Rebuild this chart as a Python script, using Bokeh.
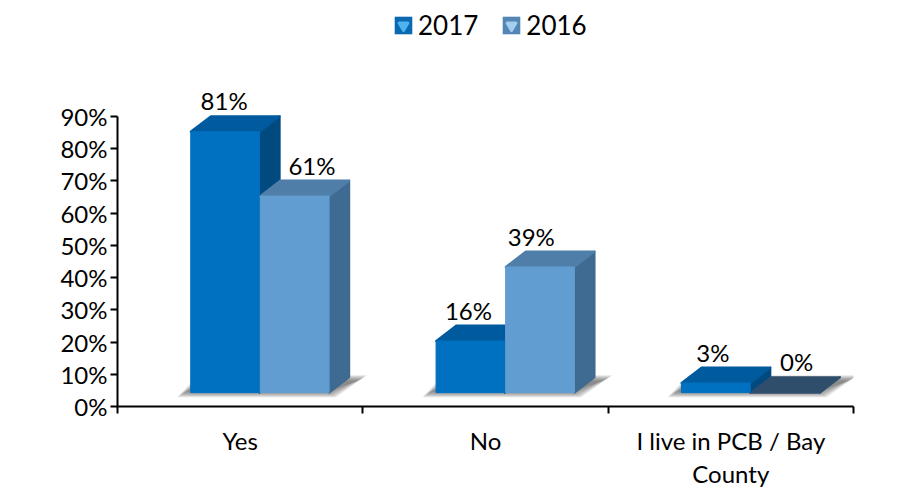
from math import nan
from bokeh.plotting import figure
from bokeh.models import FixedTicker, Legend, LegendItem, ColumnDataSource, Range1d
from bokeh.core.properties import value
from bokeh.embed import file_html
from bokeh.resources import INLINE

categories = ["Yes", "No", "I live in PCB / Bay\nCounty"]
series_names = ["2017", "2016"]
values_2017 = [81, 16, 3]
values_2016 = [61, 39, 0]
y_ticks = [0, 10, 20, 30, 40, 50, 60, 70, 80, 90]

FONT = "Lato"
FS = "24px"
BASE = 4.3
DX, DY = 0.082, 4.8
BW = 0.2805
START = 0.2985
front = ["#0070C0", "#629DD1"]
side = ["#004A80", "#3F6A91"]
top = ["#005A9E", "#4F7FA9"]
zero_top = "#2F4E6C"
label_dx = [[-1, -2, -3], [18, -8, 12]]

p = figure(width=903, height=490, output_backend="svg", toolbar_location=None,
           x_range=Range1d(0, 3), y_range=Range1d(0, 126),
           min_border_left=117, min_border_right=50, min_border_top=0, min_border_bottom=83)
p.outline_line_color = None
p.grid.visible = False
p.background_fill_color = None

# floor shadows
LAYERS = 7
for layer in range(LAYERS):
    xs, ys = [], []
    g = layer * 0.006
    h = layer * 0.3
    for c in range(3):
        s0 = c + START
        s1 = s0 + 2 * BW
        b = BASE - 1.4 + h
        t = BASE + DY + 0.6 - h
        xs.append([s0 - 0.055 + g, s1 + 0.03 - g, s1 + DX + 0.075 - g, s0 + 0.03 + g])
        ys.append([b, b, t, t])
    p.patches(xs, ys, fill_color="#606060", fill_alpha=0.16, line_color=None)


def faces(x0, v):
    x1 = x0 + BW
    t = BASE + v
    return ([x0, x1, x1, x0], [BASE, BASE, t, t],
            [x1, x1 + DX, x1 + DX, x1], [BASE, BASE + DY, t + DY, t],
            [x0, x1, x1 + DX, x0 + DX], [t, t, t + DY, t + DY])


all_values = [values_2017, values_2016]
legend_items = []
for s in range(2):
    for c in range(3):
        v = all_values[s][c]
        x0 = c + START + s * BW + s * 0.003
        fx, fy, sx, sy, tx, ty = faces(x0, v)
        tc = top[s] if v > 0 else zero_top
        p.patch(sx, sy, fill_color=side[s], line_color=side[s], line_width=2, line_join="round")
        p.patch(tx, ty, fill_color=tc, line_color=tc, line_width=2, line_join="round")
        if v > 0:
            p.patch(fx, fy, fill_color=front[s], line_color=front[s], line_width=1, line_join="round")

for s in range(2):
    src = ColumnDataSource(dict(
        x=[c + START + s * BW + BW / 2 for c in range(3)],
        y=[BASE + all_values[s][c] + DY for c in range(3)],
        t=[f"{all_values[s][c]}%" for c in range(3)],
        dx=label_dx[s]))
    p.text("x", "y", text="t", source=src, x_offset="dx", y_offset=-1,
           text_font=value(FONT), text_font_size=FS, text_color="#000000",
           text_align="center", text_baseline="bottom")

# x axis: labels centred in category, ticks at the boundaries
xa = p.xaxis[0]
xa.ticker = FixedTicker(ticks=[0.5, 1.5, 2.5], minor_ticks=[0, 1, 2, 3])
xa.major_label_overrides = {0.5: categories[0], 1.5: categories[1], 2.5: categories[2]}
xa.major_tick_line_color = None
xa.minor_tick_line_color = "#000000"
xa.minor_tick_line_width = 2
xa.minor_tick_in = 0
xa.minor_tick_out = 7
xa.axis_line_color = "#000000"
xa.axis_line_width = 2
xa.major_label_standoff = 12
xa.major_label_text_font = FONT
xa.major_label_text_font_size = FS
xa.major_label_text_color = "#000000"
xa.major_label_text_line_height = 1.15

ya = p.yaxis[0]
ya.ticker = FixedTicker(ticks=y_ticks)
ya.bounds = (0, 90)
ya.major_label_overrides = {t: f"{t}%" for t in y_ticks}
ya.minor_tick_line_color = None
ya.major_tick_line_color = "#000000"
ya.major_tick_line_width = 2
ya.major_tick_in = 0
ya.major_tick_out = 7
ya.axis_line_color = "#000000"
ya.axis_line_width = 2
ya.major_label_standoff = 3
ya.major_label_text_font = FONT
ya.major_label_text_font_size = FS
ya.major_label_text_color = "#000000"

# legend
for s in range(2):
    q = p.quad(left=[nan], right=[nan], bottom=[nan], top=[nan], fill_color="#0A69B0" if s == 0 else "#5486B5",
               line_color=None)
    m = p.scatter(x=[nan], y=[nan], marker="inverted_triangle", size=10,
                  fill_color="#4FB3F0" if s == 0 else "#A5CDF0",
                  line_color="#4FB3F0" if s == 0 else "#A5CDF0", line_width=3, line_join="round")
    legend_items.append(LegendItem(label=series_names[s], renderers=[q, m]))
legend = Legend(items=legend_items, orientation="horizontal", location=(275, 365),
                border_line_color=None, background_fill_alpha=0,
                glyph_width=22, glyph_height=22, spacing=22, label_standoff=4, padding=0, margin=0,
                label_text_font=FONT, label_text_font_size="26px", label_text_color="#000000")
p.add_layout(legend, "center")

open("out.html", "w").write(file_html(p, INLINE))
